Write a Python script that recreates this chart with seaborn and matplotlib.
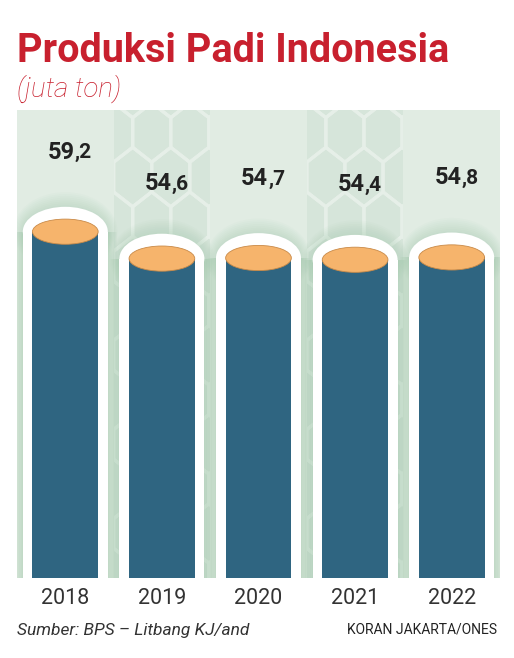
import matplotlib.pyplot as plt
import matplotlib.patches as mpatches
import seaborn as sns
import pandas as pd
import numpy as np

# data
years = ["2018", "2019", "2020", "2021", "2022"]
produksi = [59.2, 54.6, 54.7, 54.4, 54.8]
labels_int = ["59", "54", "54", "54", "54"]
labels_dec = [",2", ",6", ",7", ",4", ",8"]

sns.set_theme(style="white")
plt.rcParams['font.family'] = ['Roboto', 'DejaVu Sans']

W, H = 514, 658
fig = plt.figure(figsize=(W / 100, H / 100), dpi=100)
fig.patch.set_facecolor("white")
ax = fig.add_axes([17 / W, 80 / H, 483 / W, 468 / H])
ax.set_facecolor("#e1ece3")

ymax = 80
px_x = 483 / 5      # pixels per x unit
px_y = 468 / ymax   # pixels per y unit

# column backgrounds, patterned (pointy hexagons) for odd columns
for i in range(len(years)):
    if i % 2 == 1:
        ax.axvspan(i - 0.5, i + 0.5, color="#d6e5da", zorder=0, lw=0)
        clip = mpatches.Rectangle((i - 0.5, 0), 1, ymax, transform=ax.transData)
        r = 22      # hexagon radius in px
        sy = 1.35   # vertical stretch
        dx = np.sqrt(3) * r
        for row in range(-1, 14):
            for col in range(-1, 4):
                cx_px = col * dx + (dx / 2 if row % 2 else 0)
                cy_px = row * 1.5 * r * sy
                pts = []
                for k in range(6):
                    a = np.pi / 6 + np.pi / 3 * k
                    pts.append((i - 0.5 + (cx_px + r * np.cos(a)) / px_x,
                                (cy_px + r * sy * np.sin(a)) / px_y))
                hexp = mpatches.Polygon(pts, closed=True, fill=False,
                                        edgecolor="#e6efe8", lw=2.4, zorder=0.5)
                ax.add_patch(hexp)
                hexp.set_clip_path(clip)

df = pd.DataFrame({"tahun": years, "produksi": produksi})

# soft green glow around each tube
for i, v in enumerate(produksi):
    for dw in np.linspace(0.02, 0.2, 8):
        w = 0.88 + dw
        ax.add_patch(mpatches.Rectangle((i - w / 2, 0), w, v, color="#9fc8aa",
                                        alpha=0.07, lw=0, zorder=1))
        ax.add_patch(mpatches.Ellipse((i, v), w, 8.5 + dw * 25, color="#9fc8aa",
                                      alpha=0.05, lw=0, zorder=1))

# white outline tube
sns.barplot(data=df, x="tahun", y="produksi", color="white", width=0.88,
            saturation=1, linewidth=0, ax=ax, zorder=2)
for i, v in enumerate(produksi):
    ax.add_patch(mpatches.Ellipse((i, v), 0.88, 8.5, color="white", lw=0, zorder=2))

# blue body
sns.barplot(data=df, x="tahun", y="produksi", color="#2f6581", width=0.68,
            saturation=1, linewidth=0, ax=ax, zorder=3)

# orange top
for i, v in enumerate(produksi):
    ax.add_patch(mpatches.Ellipse((i, v), 0.68, 4.3, facecolor="#f6b46c",
                                  edgecolor="#c98a48", lw=0.6, zorder=4))

# value labels
for i, v in enumerate(produksi):
    ly = v + (12.8 if i % 2 else 13.6)
    ax.annotate(labels_int[i], (i, ly), xytext=(7, 0), textcoords="offset points",
                ha="right", va="center", fontsize=17, fontweight="bold", color="#222222")
    ax.annotate(labels_dec[i], (i, ly), xytext=(7, -0.5), textcoords="offset points",
                ha="left", va="center", fontsize=15, fontweight="bold", color="#222222")

ax.set_xlim(-0.5, 4.5)
ax.set_ylim(0, ymax)
ax.set_xlabel("")
ax.set_ylabel("")
ax.set_yticks([])
ax.tick_params(axis="x", length=0, pad=7, labelsize=15.5, labelcolor="#333333")
for s in ax.spines.values():
    s.set_visible(False)

# title and notes
fig.text(17 / W, 1 - 51 / H, "Produksi Padi Indonesia", fontsize=28.5, fontweight="bold",
         color="#c8202e", va="center", ha="left")
fig.text(17 / W, 1 - 89 / H, "(juta ton)", fontsize=20, fontstyle="italic",
         fontweight="light", color="#c8202e", va="center", ha="left")
fig.text(17 / W, 1 - 630 / H, "Sumber: BPS \u2013 Litbang KJ/and", fontsize=12.5,
         fontstyle="italic", color="#333333", va="center", ha="left")
fig.text(497 / W, 1 - 629 / H, "KORAN JAKARTA/ONES", fontsize=10,
         color="#222222", va="center", ha="right")

fig.savefig("out.png", dpi=100)
